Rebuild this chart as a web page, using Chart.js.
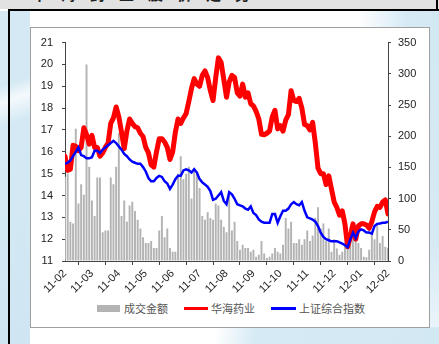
<!DOCTYPE html>
<html>
<head>
<meta charset="utf-8">
<script src="https://cdn.jsdelivr.net/npm/chart.js@4/dist/chart.umd.min.js"></script>
<style>
  html, body { margin: 0; padding: 0; }
  body { width: 439px; height: 344px; position: relative; overflow: hidden; background: #fff;
         font-family: "Liberation Sans", Arial, "Noto Sans CJK SC", sans-serif; }
  .abs { position: absolute; }
  #topband { left: 0; top: 0; width: 439px; height: 9px; background: #e2e2e2; overflow: hidden; }
  #topband span { position: absolute; left: 32px; top: -17px; font: bold 15px "Noto Sans CJK SC", sans-serif; color: #222; letter-spacing: 14px; }
  #topline { left: 8px; top: 9px; width: 431px; height: 2px; background: #000; }
  #leftline { left: 8px; top: 9px; width: 2px; height: 335px; background: #000; }
  #rightline { left: 436px; top: 0; width: 2px; height: 10px; background: #000; }
  #wmLeft { left: 0; top: 11px; width: 30px; height: 333px;
            background: linear-gradient(160deg, #d4e9f4 0%, #d4e9f4 22%, #f4f9fc 27%, #d4e9f4 34%, #cfe6f2 100%); }
  #wmRight { left: 429px; top: 11px; width: 10px; height: 333px;
             background: linear-gradient(180deg, #d2e8f3 0%, #d6eaf5 70%, #eef6fb 100%); }
  #wmTop { left: 30px; top: 11px; width: 409px; height: 16px;
           background: linear-gradient(90deg, #ffffff 0%, #ffffff 80%, #d6eaf5 92%, #d2e8f3 100%); }
  #wmBottom { left: 30px; top: 327px; width: 409px; height: 17px;
              background: linear-gradient(100deg, #ffffff 0%, #ffffff 45%, #d6eaf5 55%, #d2e8f3 100%); }
  #frame { left: 30px; top: 27px; width: 398px; height: 299px; border: 1px solid #a0a0a0; background: #fff; }
  #chart { left: 30px; top: 27px; }
  .lg { position: absolute; top: 301px; font: 11px "Noto Sans CJK SC", sans-serif; color: #555; line-height: 14px; }
  .sw { position: absolute; }
</style>
</head>
<body>
<div id="wmLeft" class="abs"></div>
<div id="wmRight" class="abs"></div>
<div id="wmTop" class="abs"></div>
<div id="wmBottom" class="abs"></div>
<div id="topband" class="abs"><span>华海药业股价走势</span></div>
<div id="topline" class="abs"></div>
<div id="leftline" class="abs"></div>
<div id="rightline" class="abs"></div>
<div id="frame" class="abs"></div>
<canvas id="chart" class="abs" width="399" height="273"></canvas>

<div class="sw" style="left:97px;top:305px;width:23px;height:7px;background:#b3b3b3"></div>
<div class="lg" style="left:124px">成交金额</div>
<div class="sw" style="left:184px;top:307px;width:24px;height:3px;background:#ff0000"></div>
<div class="lg" style="left:211px">华海药业</div>
<div class="sw" style="left:271px;top:307px;width:25px;height:3px;background:#0000ff"></div>
<div class="lg" style="left:299px">上证综合指数</div>

<script>
// ── month tick labels (one tick every 10 samples) ──
const monthLabels = ['11-02', '11-03', '11-04', '11-05', '11-06', '11-07', '11-08',
                     '11-09', '11-10', '11-11', '11-12', '12-01', '12-02'];

// 华海药业 close price (left axis)
const priceHuahai = [
  15.8, 15.15, 15.2, 16.3, 16.25, 16.05, 16.2, 17.1, 16.8, 16.35,
  16.75, 16.2, 16.2, 15.8, 15.95, 16.2, 16.4, 17.3, 17.55, 18.05,
  17.6, 16.9, 16.15, 16.95, 17.5, 17.3, 17.15, 17.1, 16.85, 16.7,
  16.2, 15.95, 15.4, 15.3, 16.0, 16.6, 16.6, 16.45, 16.2, 15.65,
  16.0, 16.9, 17.5, 17.3, 17.55, 17.75, 18.3, 18.9, 19.35, 19.1,
  19.0, 19.5, 19.7, 19.4, 18.8, 18.35, 19.4, 20.3, 20.1, 19.3,
  18.5, 19.2, 19.5, 19.4, 18.7, 18.55, 19.1, 18.5, 18.7, 18.2,
  18.1, 17.85, 17.5, 16.8, 16.78, 16.85, 16.95, 17.6, 17.9, 17.05,
  17.2, 16.95, 17.45, 17.7, 18.8, 18.35, 18.3, 18.45, 18.0, 17.25,
  17.2, 17.0, 17.35, 16.4, 15.25, 15.0, 15.0, 14.5, 14.9, 14.3,
  13.7, 13.45, 13.1, 13.3, 12.7, 11.65, 12.1, 12.7, 12.0, 12.6,
  12.7, 12.7, 12.65, 12.5, 12.8, 13.25, 13.5, 13.45, 13.7, 13.8,
  13.15
];

// 上证综合指数, rescaled onto the left axis
const indexSH = [
  15.45, 15.5, 15.6, 15.8, 16.0, 16.2, 15.85, 15.8, 15.7, 15.7,
  15.75, 16.05, 16.05, 15.95, 16.1, 16.2, 16.3, 16.4, 16.5, 16.4,
  16.25, 16.1, 15.9, 15.8, 15.65, 15.55, 15.5, 15.45, 15.45, 15.3,
  15.1, 14.8, 14.65, 14.65, 14.8, 14.9, 14.85, 14.65, 14.55, 14.3,
  14.5, 14.75, 14.9, 14.9, 15.15, 15.2, 15.15, 15.05, 15.2, 15.05,
  14.75, 14.6, 14.5, 14.4, 14.2, 13.8, 13.85, 14.0, 14.15, 13.75,
  13.6, 14.15, 14.05, 13.85, 13.6, 13.55, 13.5, 13.4, 13.35, 13.5,
  13.2, 13.1, 12.9, 12.8, 12.75, 12.75, 12.75, 13.15, 13.15, 12.75,
  13.05, 13.3, 13.3, 13.4, 13.6, 13.7, 13.6, 13.55, 13.7, 13.3,
  13.0, 12.95, 12.9, 12.8, 12.6, 12.3, 12.1, 12.0, 11.95, 11.9,
  11.9, 11.9, 11.85, 11.8, 11.72, 11.63, 12.0, 12.3, 12.05, 12.35,
  12.45, 12.4, 12.3, 12.3, 12.25, 12.6, 12.7, 12.72, 12.75, 12.75,
  12.8
];

// 成交金额 (right axis)
const turnover = [
  135, 140, 63, 60, 212, 92, 123, 106, 315, 151,
  97, 72, 134, 134, 46, 49, 49, 134, 123, 151,
  205, 72, 97, 63, 89, 95, 80, 66, 52, 38,
  29, 29, 32, 21, 21, 49, 72, 38, 52, 21,
  15, 15, 140, 168, 131, 140, 151, 100, 148, 140,
  117, 72, 66, 78, 69, 66, 92, 89, 66, 55,
  46, 106, 49, 63, 32, 18, 26, 21, 21, 15,
  18, 7, 10, 32, 12, 5, 7, 12, 21, 15,
  12, 26, 69, 52, 63, 29, 29, 35, 26, 35,
  49, 32, 41, 69, 86, 52, 60, 32, 52, 15,
  35, 20, 10, 15, 29, 41, 55, 40, 55, 29,
  21, 7, 6, 18, 47, 35, 60, 29, 40, 23,
  21
];

const sampleIdx = priceHuahai.map((_, i) => i);
const axisFont = { family: '"Liberation Sans", Arial, sans-serif', size: 11 };
const axisColor = '#444';

new Chart(document.getElementById('chart'), {
  type: 'line',
  data: {
    labels: sampleIdx,
    datasets: [
      { type: 'line', label: '上证综合指数', data: indexSH, yAxisID: 'y',
        borderColor: '#0000ff', borderWidth: 2.5, pointRadius: 0, tension: 0, order: 1 },
      { type: 'line', label: '华海药业', data: priceHuahai, yAxisID: 'y',
        borderColor: '#ff0000', borderWidth: 5, pointRadius: 0, tension: 0,
        borderJoinStyle: 'round', borderCapStyle: 'round', order: 2 },
      { type: 'bar', label: '成交金额', data: turnover, yAxisID: 'y1',
        backgroundColor: '#b3b3b3', barPercentage: 0.72, categoryPercentage: 1, order: 3 }
    ]
  },
  options: {
    responsive: false,
    animation: false,
    layout: { padding: { top: 14, left: 0, right: 0, bottom: 0 } },
    plugins: { legend: { display: false }, tooltip: { enabled: false } },
    scales: {
      x: {
        type: 'linear', min: 0, max: 120, offset: false,
        ticks: {
          stepSize: 10, autoSkip: false, minRotation: 45, maxRotation: 45,
          color: '#222', font: axisFont, padding: 2,
          callback: v => monthLabels[v / 10] || ''
        },
        grid: { drawOnChartArea: false, tickLength: 4, color: axisColor },
        border: { color: axisColor, width: 1 },
        afterFit: s => { s.height = 39; }
      },
      y: {
        position: 'left', min: 11, max: 21,
        ticks: { stepSize: 1, color: '#222', font: axisFont, padding: 9 },
        grid: { drawOnChartArea: false, tickLength: 3, color: axisColor },
        border: { color: axisColor, width: 1 },
        afterFit: s => { s.width = 35; }
      },
      y1: {
        position: 'right', min: 0, max: 350,
        ticks: { stepSize: 50, color: '#222', font: axisFont, padding: 7 },
        grid: { drawOnChartArea: false, tickLength: 3, color: axisColor },
        border: { color: axisColor, width: 1 },
        afterFit: s => { s.width = 41; }
      }
    }
  }
});
</script>
</body>
</html>
